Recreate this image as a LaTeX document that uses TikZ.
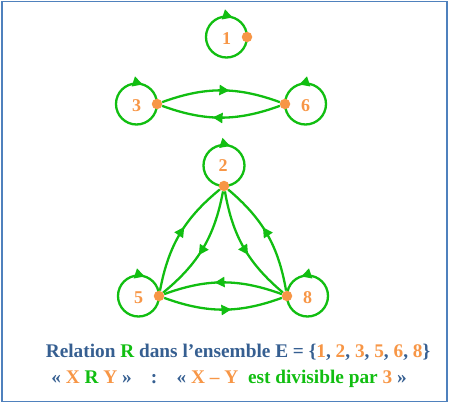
\documentclass[tikz,border=0pt]{standalone}
\usepackage{fontspec}
\setmainfont{Liberation Serif}
\usetikzlibrary{arrows.meta,decorations.markings,backgrounds}

\definecolor{vertrel}{RGB}{17,190,17}
\definecolor{orangept}{RGB}{247,150,70}
\definecolor{bleutxt}{RGB}{54,95,145}
\definecolor{bleucadre}{RGB}{79,129,189}

\begin{document}
\begin{tikzpicture}[x=1pt, y=1pt]

\def\rloop{20.5}
\def\bend{20}

\tikzset{
  sommet/.style={circle, fill=orangept, inner sep=0pt, minimum size=10.5pt},
  etiq/.style={text=orangept, font=\fontsize{18}{18}\selectfont\bfseries},
  titre/.style={text=bleutxt, font=\fontsize{19.3}{22}\selectfont\bfseries},
  fleche/.style={
    color=vertrel,
    line width=2.3pt,
    postaction={decorate},
    decoration={markings,
      mark=at position #1 with {\arrow{Triangle[length=10pt,width=10pt]}}}
  },
  fleche/.default=0.57
}

\useasboundingbox (0,0) rectangle (450,-405);

% ---------- cadre ----------
\draw[bleucadre, line width=1.6pt] (2,-1.5) rectangle (447,-401.5);

% ---------- sommets ----------
\node[sommet] (n1) at (247,-37) {};
\node[sommet] (n3) at (157,-104) {};
\node[sommet] (n6) at (285,-104) {};
\node[sommet] (n2) at (224,-186) {};
\node[sommet] (n5) at (159,-296) {};
\node[sommet] (n8) at (287,-296) {};

\node[etiq] (t1) at (226.5,-39) {1};
\node[etiq] (t3) at (136.5,-106) {3};
\node[etiq] (t6) at (305.5,-106) {6};
\node[etiq] (t2) at (223,-166) {2};
\node[etiq] (t5) at (138.5,-298) {5};
\node[etiq] (t8) at (307.5,-298) {8};

\begin{scope}[on background layer]
% ---------- boucles ----------
\foreach \n/\a/\b/\p in {1/0/-360/0.8, 3/0/-360/0.8, 5/0/-360/0.8,
                         6/180/540/0.8, 8/180/540/0.8, 2/270/-90/0.55} {
  \draw[fleche=\p] (n\n) arc[start angle=\a, end angle=\b, radius=\rloop];
}

% ---------- arcs entre sommets ----------
\draw[fleche] (n3) to[bend left=\bend] (n6);
\draw[fleche] (n6) to[bend left=\bend] (n3);

\draw[fleche] (n5) to[bend left=\bend] (n2);
\draw[fleche] (n2) to[bend left=\bend] (n5);

\draw[fleche] (n2) to[bend right=\bend] (n8);
\draw[fleche] (n8) to[bend right=\bend] (n2);

\draw[fleche] (n8) to[bend right=\bend] (n5);
\draw[fleche] (n5) to[bend right=\bend] (n8);
\end{scope}

% ---------- texte ----------
\node[titre] (ligne1) at (238,-352) {Relation \textcolor{vertrel}{R} dans l’ensemble E = \{\textcolor{orangept}{1}, \textcolor{orangept}{2}, \textcolor{orangept}{3}, \textcolor{orangept}{5}, \textcolor{orangept}{6}, \textcolor{orangept}{8}\}};
\node[titre] (ligne2) at (229,-379) {« \textcolor{orangept}{X} \textcolor{vertrel}{R} \textcolor{orangept}{Y} »\quad :\quad « \textcolor{orangept}{X – Y}\ \ \textcolor{vertrel}{est divisible par} \textcolor{orangept}{3} »};

\end{tikzpicture}
\end{document}
